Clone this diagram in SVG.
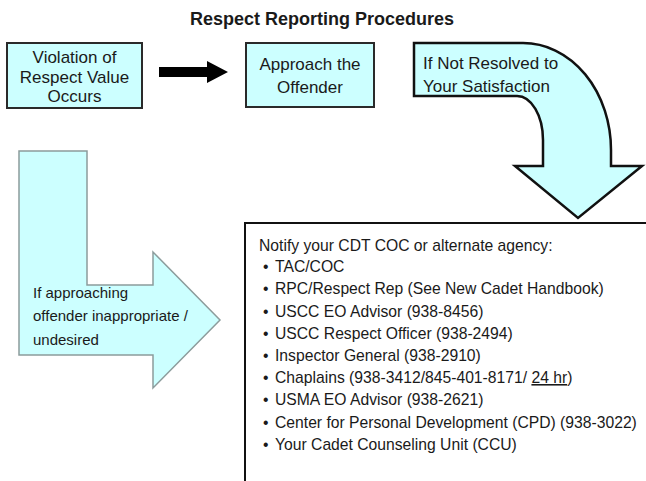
<svg xmlns="http://www.w3.org/2000/svg" width="646" height="481" viewBox="0 0 646 481">
<style>
.t{font-family:"Liberation Sans",Arial,sans-serif;fill:#1a1a1a}
.box{fill:#ccffff;stroke:#2a2a2a;stroke-width:2}
.lst{font-family:"Liberation Sans",Arial,sans-serif;font-size:15.7px;fill:#1a1a1a}
</style>
<rect width="646" height="481" fill="#ffffff"/>
<text class="t" x="190" y="25" font-size="18" font-weight="bold">Respect Reporting Procedures</text>
<g id="violation">
<rect class="box" x="7" y="43" width="135" height="65"/>
<text class="t" font-size="17" text-anchor="middle"><tspan x="74.5" y="63">Violation of</tspan><tspan x="74.5" y="83">Respect Value</tspan><tspan x="74.5" y="102">Occurs</tspan></text>
</g>
<g id="approach">
<rect class="box" x="246" y="43" width="128" height="64"/>
<text class="t" font-size="17" text-anchor="middle"><tspan x="310" y="70">Approach the</tspan><tspan x="310" y="93">Offender</tspan></text>
</g>
<g id="connectors">
<polygon points="159,67 207,67 207,61 228,72 207,83 207,77 159,77" fill="#000"/>
</g>
<g id="not-resolved">
<path d="M414,43 H523 A88,107 0 0 1 611,150 V166 H642 L578,218 L515,166 H543 V140 A26,44 0 0 0 517,96 H414 Z" fill="#ccffff" stroke="#111" stroke-width="2.5" stroke-linejoin="miter"/>
<text class="t" font-size="17"><tspan x="423" y="69">If Not Resolved to</tspan><tspan x="423" y="92">Your Satisfaction</tspan></text>
</g>
<g id="inappropriate">
<path d="M19,151 H87 V285 H153 V252 L220,320 L153,388 V355 H19 Z" fill="#ccffff" stroke="#8c9c9c" stroke-width="1.5"/>
<text class="t" font-size="15"><tspan x="33" y="298">If approaching</tspan><tspan x="33" y="321">offender inappropriate /</tspan><tspan x="33" y="345">undesired</tspan></text>
</g>
<g id="notify">
<path d="M245,481 V223 H646" fill="#ffffff" stroke="#111" stroke-width="2"/>
<text class="lst" x="259" y="251">Notify your CDT COC or alternate agency:</text>
<g class="lst">
<text x="263" y="272">•</text><text x="275" y="272">TAC/COC</text>
<text x="263" y="294">•</text><text x="275" y="294">RPC/Respect Rep (See New Cadet Handbook)</text>
<text x="263" y="316.5">•</text><text x="275" y="316.5">USCC EO Advisor (938-8456)</text>
<text x="263" y="338.5">•</text><text x="275" y="338.5">USCC Respect Officer (938-2494)</text>
<text x="263" y="361">•</text><text x="275" y="361">Inspector General (938-2910)</text>
<text x="263" y="383">•</text><text x="275" y="383">Chaplains (938-3412/845-401-8171/ <tspan text-decoration="underline">24 hr</tspan>)</text>
<text x="263" y="405">•</text><text x="275" y="405">USMA EO Advisor (938-2621)</text>
<text x="263" y="427.5">•</text><text x="275" y="427.5">Center for Personal Development (CPD) (938-3022)</text>
<text x="263" y="450">•</text><text x="275" y="450">Your Cadet Counseling Unit (CCU)</text>
</g>
</g>
</svg>
